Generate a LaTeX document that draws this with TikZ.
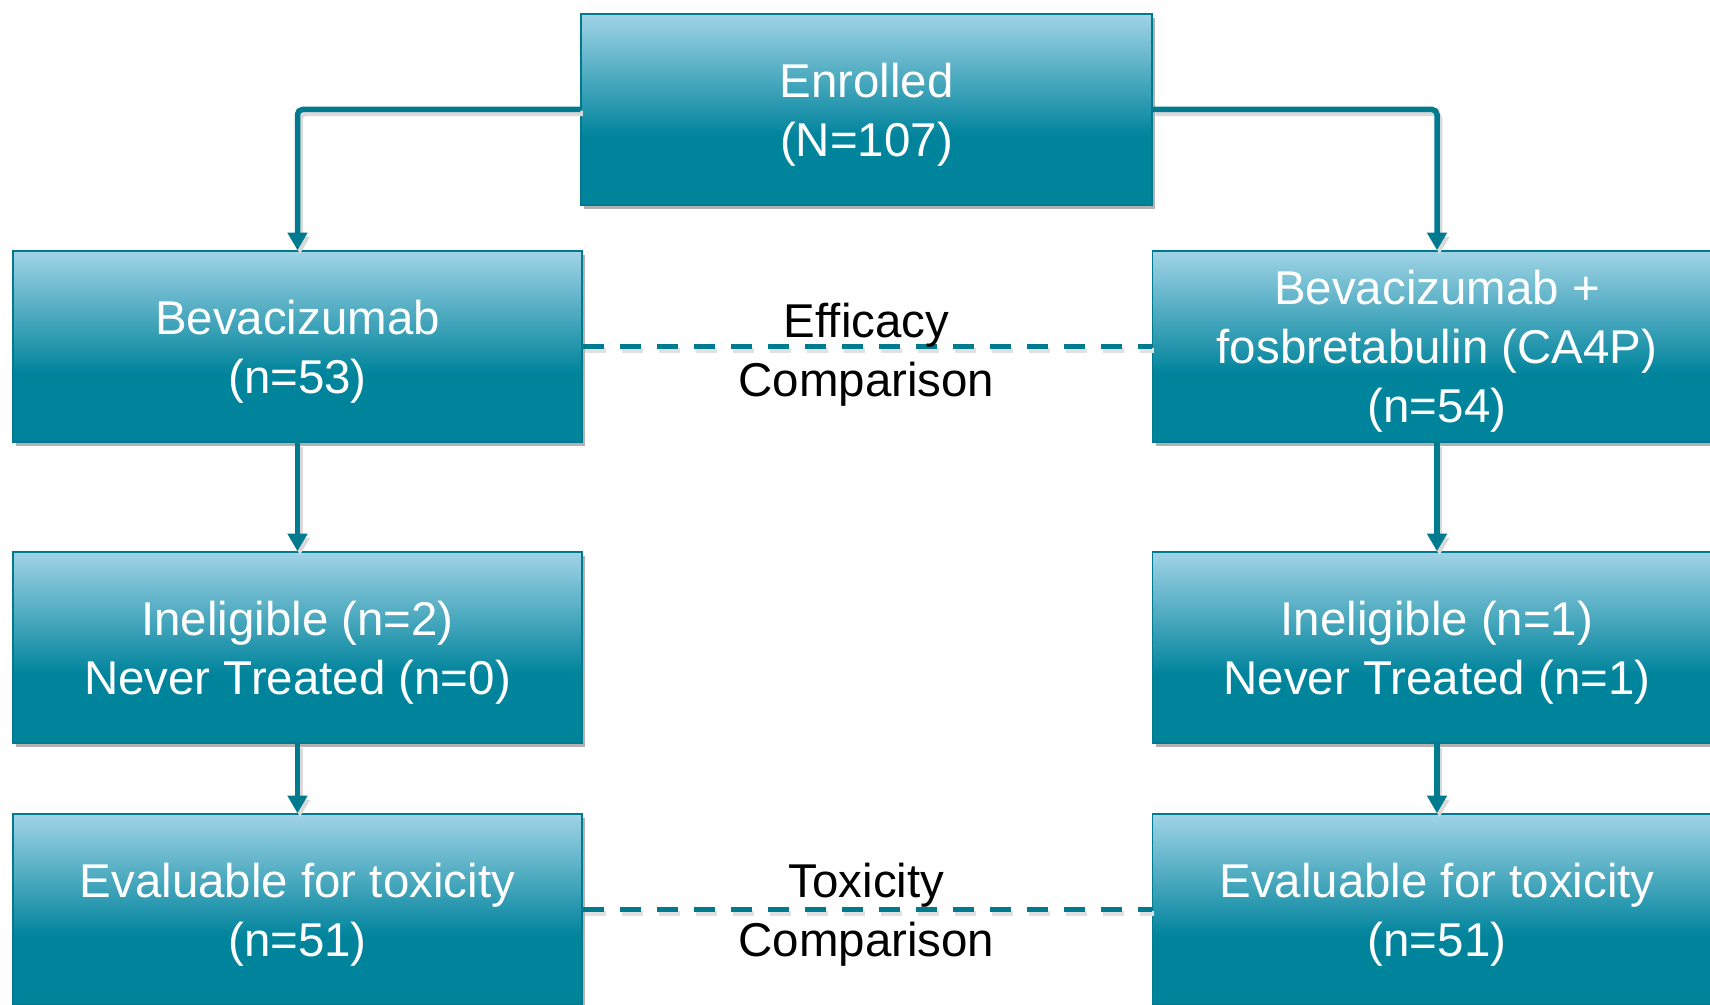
\documentclass[tikz,border=0pt]{standalone}
\usepackage{fontspec}
\setmainfont{Liberation Sans}
\usetikzlibrary{arrows.meta, shadows}

\definecolor{tealDark}{RGB}{0,132,156}
\definecolor{tealLight}{RGB}{160,211,230}
\definecolor{tealLine}{RGB}{0,122,143}
\pgfdeclareverticalshading{armShading}{100bp}{color(0bp)=(tealDark); color(25bp)=(tealDark); color(43bp)=(tealDark); color(75bp)=(tealLight); color(100bp)=(tealLight)}

\tikzset{
    armBox/.style={rectangle, draw=tealLine, line width=0.03cm, shading=armShading,
        text=white, align=center, minimum width=11.38cm, minimum height=3.82cm, inner sep=0pt,
        font=\fontsize{27}{33.6}\selectfont, text depth=-0.04cm,
        drop shadow={shadow xshift=0.06cm, shadow yshift=-0.08cm, opacity=0.3, fill=black}},
    flowArrow/.style={draw=tealLine, line width=0.11cm, rounded corners=0.1cm,
        -{Triangle[width=0.38cm, length=0.35cm]},
        preaction={draw=black!15, line width=0.11cm, transform canvas={xshift=0.05cm, yshift=-0.08cm}}},
    compareLine/.style={draw=tealLine, line width=0.11cm, dash pattern=on 0.42cm off 0.32cm,
        preaction={draw=black!12, line width=0.11cm, dash pattern=on 0.42cm off 0.32cm,
            transform canvas={xshift=0.05cm, yshift=-0.08cm}}},
    compareText/.style={align=center, font=\fontsize{27}{33.6}\selectfont}
}

\begin{document}
\begin{tikzpicture}

    \useasboundingbox (0, 0) rectangle (34.2, 20.1);

    \def\leftX{5.95}
    \def\rightX{28.74}
    \def\midX{17.33}

    % enrolled
    \node[armBox, minimum width=11.42cm] (enrolled) at (\midX, 17.91) {Enrolled\\(N=107)};

    % arms
    \node[armBox] (bev) at (\leftX, 13.17) {Bevacizumab\\(n=53)};
    \node[armBox] (combo) at (\rightX, 13.17) {Bevacizumab +\\fosbretabulin (CA4P)\\(n=54)};

    % ineligible
    \node[armBox] (inelL) at (\leftX, 7.15) {Ineligible (n=2)\\Never Treated (n=0)};
    \node[armBox] (inelR) at (\rightX, 7.15) {Ineligible (n=1)\\Never Treated (n=1)};

    % evaluable
    \node[armBox] (evalL) at (\leftX, 1.91) {Evaluable for toxicity\\(n=51)};
    \node[armBox] (evalR) at (\rightX, 1.91) {Evaluable for toxicity\\(n=51)};

    % split
    \draw[flowArrow] (enrolled.west) -| (bev.north);
    \draw[flowArrow] (enrolled.east) -| (combo.north);

    %down the arms
    \foreach \upper/\lower in {bev/inelL, inelL/evalL, combo/inelR, inelR/evalR}
    {
        \draw[flowArrow] (\upper.south) -- (\lower.north);
    }

    % comparisons
    \draw[compareLine] (bev.east) -- (combo.west);
    \draw[compareLine] (evalL.east) -- (evalR.west);
    \node[compareText] (efficacy) at (\midX, 13.0) {Efficacy\\Comparison};
    \node[compareText] (toxicity) at (\midX, 1.8) {Toxicity\\Comparison};

\end{tikzpicture}
\end{document}
